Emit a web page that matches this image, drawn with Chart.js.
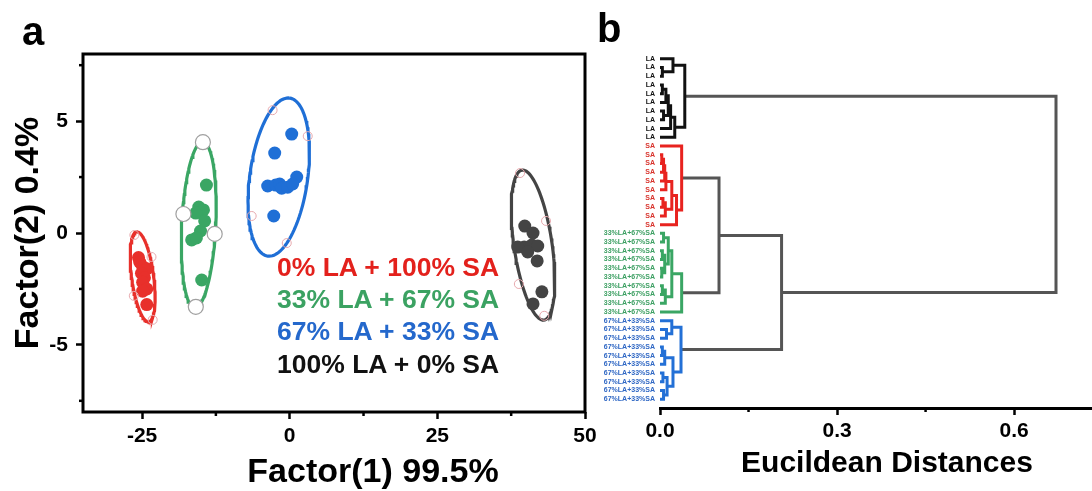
<!DOCTYPE html>
<html>
<head>
<meta charset="utf-8">
<script src="https://cdn.jsdelivr.net/npm/chart.js@4.4.0/dist/chart.umd.min.js"></script>
<style>
  body { margin: 0; background: #fff; width: 1092px; height: 491px; overflow: hidden; position: relative;
         font-family: "Liberation Sans", Arial, sans-serif; font-weight: bold; }
  canvas { position: absolute; top: 0; }
  .t { position: absolute; white-space: nowrap; line-height: 1; }
</style>
</head>
<body>
<canvas id="pca" width="610" height="491" style="left:0"></canvas>
<canvas id="dendro" width="502" height="491" style="left:590px"></canvas>

<div class="t" style="left:22px;top:11px;font-size:40px">a</div>
<div class="t" style="left:597px;top:8px;font-size:40px">b</div>
<div class="t" style="left:-104px;top:216px;width:260px;font-size:34px;text-align:center;transform:rotate(-90deg)">Factor(2) 0.4%</div>
<div class="t" style="left:223px;top:453px;width:300px;font-size:34px;text-align:center">Factor(1) 99.5%</div>
<div class="t" style="left:707px;top:447px;width:360px;font-size:30px;text-align:center">Eucildean Distances</div>
<div id="legend"></div>

<script>
const FONT = '"Liberation Sans", Arial, sans-serif';

// ---- panel a : PCA scores ----
const groupNames = ['0% LA + 100% SA', '33% LA + 67% SA', '67% LA + 33% SA', '100% LA + 0% SA'];
const groupColors = ['#e8302b', '#3aa664', '#1f6fd6', '#444444'];
const legendColors = ['#e3211c', '#3ba262', '#2468cc', '#111111'];

const redPts = [[-25.6, -1.1], [-25.4, -1.3], [-24.9, -1.5], [-24.2, -1.6], [-25.1, -1.8], [-24.6, -2.0],
                [-24.9, -2.2], [-24.2, -2.5], [-24.9, -2.6], [-24.2, -3.2]];
const greenPts = [[-14.1, 2.14], [-15.4, 1.16], [-14.6, 1.03], [-15.9, 0.89], [-14.4, 0.54],
                  [-15.1, 0.09], [-16.6, -0.31], [-15.8, -0.22], [-14.9, -2.1]];
const bluePts = [[0.34, 4.42], [-2.54, 3.57], [1.19, 2.5], [-3.73, 2.1], [-2.37, 2.14], [-1.7, 2.19],
                 [-1.36, 2.0], [-0.34, 2.05], [0.5, 2.19], [-2.7, 0.76]];
const grayPts = [[39.8, 0.31], [41.2, 0.0], [39.7, -0.63], [38.6, -0.63], [41.0, -0.54], [42.0, -0.58],
                 [40.3, -0.85], [41.9, -1.25], [42.7, -2.63], [41.2, -3.17]];

// little open markers sitting on the ellipses
const pinkMarks = [[-26.3, -0.09], [-23.4, -1.07], [-26.4, -2.81], [-23.2, -3.88],
                   [-2.9, 5.49], [3.05, 4.33], [-6.44, 0.76], [-0.5, -0.45],
                   [39.0, 2.68], [43.4, 0.54], [38.8, -2.28], [43.1, -3.7]];
const whiteMarks = [[-14.7, 4.06], [-18.0, 0.85], [-12.7, -0.04], [-15.9, -3.3]];

// confidence ellipses: centre, major half-axis vector, minor half-axis vector (data units)
const ellCenter = [[-24.9, -1.96], [-15.4, 0.36], [-1.86, 2.5], [41.2, -0.54]];
const ellMajor = [[-1.02, 2.01], [0.68, 3.71], [1.86, 3.53], [-1.86, 3.35]];
const ellMinor = [[1.85, 0.065], [2.88, -0.036], [4.86, -0.18], [3.19, 0.12]];

const pcaXTicks = [-25, 0, 25, 50];
const pcaYTicks = [-5, 0, 5];

function toXY(arr) { return arr.map(p => ({ x: p[0], y: p[1] })); }

function ellipse(i) {
  const pts = [];
  for (let k = 0; k <= 120; k++) {
    const t = k / 120 * 2 * Math.PI;
    pts.push({
      x: ellCenter[i][0] + ellMajor[i][0] * Math.cos(t) + ellMinor[i][0] * Math.sin(t),
      y: ellCenter[i][1] + ellMajor[i][1] * Math.cos(t) + ellMinor[i][1] * Math.sin(t)
    });
  }
  return pts;
}

const minorTicks = {
  id: 'minorTicks',
  afterDraw(chart, args, opts) {
    const { ctx, chartArea } = chart;
    ctx.save();
    ctx.strokeStyle = '#000';
    ctx.lineWidth = 2.5;
    (opts.x || []).forEach(v => {
      const px = chart.scales.x.getPixelForValue(v);
      ctx.beginPath(); ctx.moveTo(px, chartArea.bottom); ctx.lineTo(px, chartArea.bottom + 4); ctx.stroke();
    });
    (opts.y || []).forEach(v => {
      const py = chart.scales.y.getPixelForValue(v);
      ctx.beginPath(); ctx.moveTo(chartArea.left, py); ctx.lineTo(chartArea.left - 4, py); ctx.stroke();
    });
    ctx.restore();
  }
};

const frame = {
  id: 'frame',
  afterDraw(chart) {
    const { ctx, chartArea: a } = chart;
    ctx.save();
    ctx.strokeStyle = '#000';
    ctx.lineWidth = 3;
    ctx.strokeRect(a.left, a.top, a.right - a.left, a.bottom - a.top);
    ctx.restore();
  }
};

const pointSets = [redPts, greenPts, bluePts, grayPts];
const pcaDatasets = [];
pointSets.forEach((pts, i) => {
  pcaDatasets.push({
    data: toXY(pts), order: 2, pointRadius: 6.5, pointBackgroundColor: groupColors[i],
    pointBorderColor: groupColors[i], pointBorderWidth: 0
  });
  pcaDatasets.push({
    data: ellipse(i), order: 3, showLine: true, pointRadius: 0, borderColor: groupColors[i],
    borderWidth: 3.2, fill: false
  });
});
pcaDatasets.push({ data: toXY(whiteMarks), order: 1, pointRadius: 7.5, pointBackgroundColor: '#fff',
                   pointBorderColor: '#a0a0a0', pointBorderWidth: 1.2 });
pcaDatasets.push({ data: toXY(pinkMarks), order: 0, pointRadius: 4.5, pointBackgroundColor: 'rgba(0,0,0,0)',
                   pointBorderColor: '#e7a9ae', pointBorderWidth: 1 });

const tickFont = { family: FONT, size: 21, weight: 'bold' };

new Chart(document.getElementById('pca'), {
  type: 'scatter',
  data: { datasets: pcaDatasets },
  options: {
    responsive: false,
    animation: false,
    events: [],
    layout: { padding: { top: 54, right: 25, left: 0, bottom: 0 } },
    plugins: {
      legend: { display: false },
      tooltip: { enabled: false },
      minorTicks: { x: [-12.5, 12.5, 37.5], y: [-7.5, -2.5, 2.5, 7.5] }
    },
    scales: {
      x: {
        type: 'linear', min: -35, max: 50,
        afterBuildTicks: s => { s.ticks = pcaXTicks.map(v => ({ value: v })); },
        afterFit: s => { s.height = 79; },
        grid: { drawOnChartArea: false, tickLength: 7, tickWidth: 2.5, tickColor: '#000' },
        border: { display: false },
        ticks: { font: tickFont, color: '#000', padding: 5, maxRotation: 0 }
      },
      y: {
        type: 'linear', min: -8, max: 8,
        afterBuildTicks: s => { s.ticks = pcaYTicks.map(v => ({ value: v })); },
        afterFit: s => { s.width = 83; },
        grid: { drawOnChartArea: false, tickLength: 7, tickWidth: 2.5, tickColor: '#000' },
        border: { display: false },
        ticks: { font: tickFont, color: '#000', padding: 8 }
      }
    }
  },
  plugins: [frame, minorTicks]
});

// legend as coloured text lines
const legendTops = [254, 286, 318, 351];
const legendBox = document.getElementById('legend');
groupNames.forEach((name, i) => {
  const d = document.createElement('div');
  d.className = 't';
  d.style.cssText = `left:277px;top:${legendTops[i]}px;font-size:26.5px;color:${legendColors[i]}`;
  d.textContent = name;
  legendBox.appendChild(d);
});

// ---- panel b : dendrogram ----
const leafLabels = [].concat(Array(10).fill('LA'), Array(10).fill('SA'),
                             Array(10).fill('33%LA+67%SA'), Array(10).fill('67%LA+33%SA'));
const leafGroup = [].concat(Array(10).fill('LA'), Array(10).fill('SA'), Array(10).fill('G'), Array(10).fill('B'));
const clusterColors = { LA: '#111111', SA: '#e8231f', G: '#3aa664', B: '#2370d6', link: '#555555' };
const labelColors = { LA: '#111111', SA: '#d8322b', G: '#3c9f62', B: '#2f67c4' };

// merges: [child a, child b, distance]; leaves are 0-39, merge k becomes node 40+k
const merges = [
  [1, 2, 0.004], [0, 40, 0.022], [3, 4, 0.004], [42, 5, 0.010], [6, 7, 0.006],
  [43, 44, 0.014], [45, 8, 0.018], [46, 9, 0.025], [41, 47, 0.042],
  [11, 12, 0.003], [49, 13, 0.006], [50, 14, 0.008], [51, 15, 0.010], [16, 17, 0.005],
  [53, 18, 0.009], [52, 54, 0.020], [55, 19, 0.028], [10, 56, 0.0367],
  [20, 21, 0.006], [22, 23, 0.004], [24, 25, 0.003], [26, 27, 0.004], [59, 60, 0.008],
  [58, 62, 0.014], [61, 28, 0.009], [63, 64, 0.020], [65, 29, 0.0367],
  [31, 32, 0.011], [30, 67, 0.020], [33, 34, 0.004], [69, 35, 0.008], [36, 37, 0.005],
  [38, 39, 0.006], [71, 72, 0.012], [70, 73, 0.022], [68, 74, 0.0356],
  [57, 66, 0.100], [76, 75, 0.206], [48, 77, 0.671]
];
const distTicks = [0, 0.3, 0.6];

const nodeX = [], nodeY = [], nodeGroup = [];
leafLabels.forEach((_, i) => { nodeX[i] = 0; nodeY[i] = i; nodeGroup[i] = leafGroup[i]; });
const segs = { LA: [], SA: [], G: [], B: [], link: [] };
merges.forEach(([a, b, d], k) => {
  const id = leafLabels.length + k;
  nodeX[id] = d;
  nodeY[id] = (nodeY[a] + nodeY[b]) / 2;
  nodeGroup[id] = nodeGroup[a] === nodeGroup[b] ? nodeGroup[a] : 'link';
  segs[nodeGroup[id]].push(
    { x: nodeX[a], y: nodeY[a] }, { x: d, y: nodeY[a] }, { x: d, y: nodeY[b] }, { x: nodeX[b], y: nodeY[b] },
    { x: null, y: null });
});

const dendroDatasets = Object.keys(segs).map(g => ({
  data: segs[g], showLine: true, spanGaps: false, pointRadius: 0, borderColor: clusterColors[g],
  borderWidth: 3, borderJoinStyle: 'miter', borderCapStyle: 'butt', fill: false
}));

new Chart(document.getElementById('dendro'), {
  type: 'scatter',
  data: { datasets: dendroDatasets },
  options: {
    responsive: false,
    animation: false,
    events: [],
    layout: { padding: { top: 50, right: 0, left: 0, bottom: 0 } },
    plugins: {
      legend: { display: false },
      tooltip: { enabled: false },
      minorTicks: { x: [0.15, 0.45] }
    },
    scales: {
      x: {
        type: 'linear', min: 0, max: 0.732,
        afterBuildTicks: s => { s.ticks = distTicks.map(v => ({ value: v })); },
        afterFit: s => { s.height = 83; },
        grid: { drawOnChartArea: false, tickLength: 7, tickWidth: 2.5, tickColor: '#000' },
        border: { display: true, color: '#000', width: 3 },
        ticks: { font: tickFont, color: '#000', padding: 4, maxRotation: 0, callback: v => v.toFixed(1) }
      },
      y: {
        type: 'linear', reverse: true, min: -1, max: 40,
        afterBuildTicks: s => { s.ticks = leafLabels.map((_, i) => ({ value: i })); },
        afterFit: s => { s.width = 70; },
        grid: { display: false, drawTicks: false },
        border: { display: false },
        ticks: {
          autoSkip: false, padding: 5,
          font: { family: FONT, size: 7, weight: 'bold' },
          color: c => labelColors[leafGroup[c.index]],
          callback: (v, i) => leafLabels[i]
        }
      }
    }
  },
  plugins: [minorTicks]
});
</script>
</body>
</html>
